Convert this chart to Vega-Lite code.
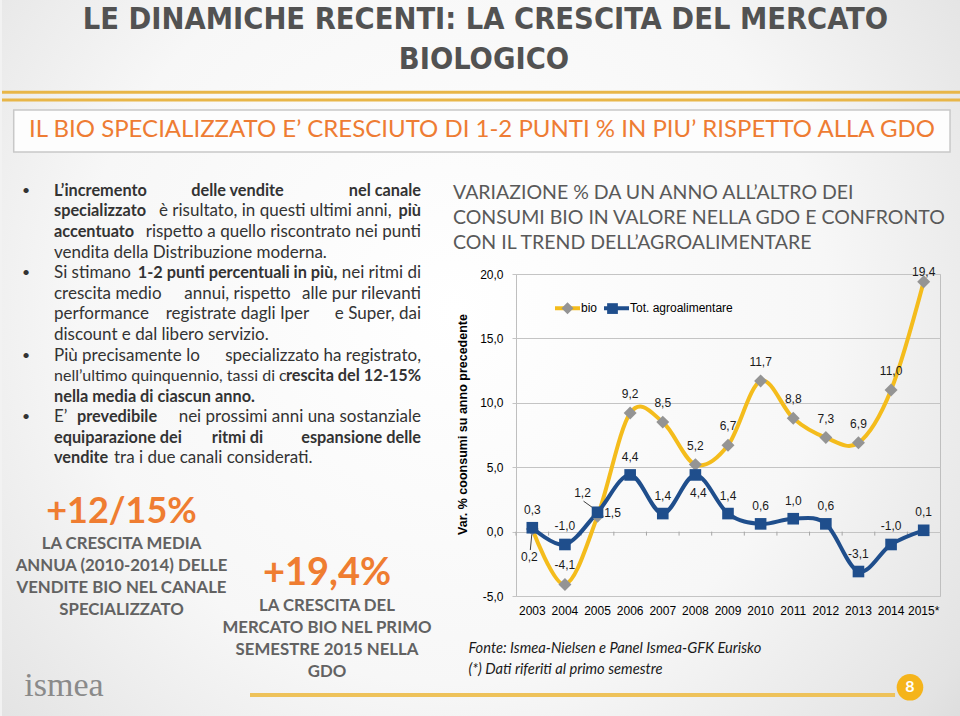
{
 "$schema": "https://vega.github.io/schema/vega-lite/v6.json",
 "background": "#f2f2f2",
 "padding": 0,
 "spacing": 0,
 "bounds": "flush",
 "columns": 2,
 "config": {
  "view": {"stroke": null},
  "locale": {"number": {"decimal": ",", "thousands": ".", "grouping": [3], "currency": ["", " €"], "minus": "-"}}
 },
 "datasets": {
  "series": [
   {"year": "2003", "series": "bio", "value": 0.2},
   {"year": "2004", "series": "bio", "value": -4.1},
   {"year": "2005", "series": "bio", "value": 1.2},
   {"year": "2006", "series": "bio", "value": 9.2},
   {"year": "2007", "series": "bio", "value": 8.5},
   {"year": "2008", "series": "bio", "value": 5.2},
   {"year": "2009", "series": "bio", "value": 6.7},
   {"year": "2010", "series": "bio", "value": 11.7},
   {"year": "2011", "series": "bio", "value": 8.8},
   {"year": "2012", "series": "bio", "value": 7.3},
   {"year": "2013", "series": "bio", "value": 6.9},
   {"year": "2014", "series": "bio", "value": 11.0},
   {"year": "2015*", "series": "bio", "value": 19.4},
   {"year": "2003", "series": "Tot. agroalimentare", "value": 0.3},
   {"year": "2004", "series": "Tot. agroalimentare", "value": -1.0},
   {"year": "2005", "series": "Tot. agroalimentare", "value": 1.5},
   {"year": "2006", "series": "Tot. agroalimentare", "value": 4.4},
   {"year": "2007", "series": "Tot. agroalimentare", "value": 1.4},
   {"year": "2008", "series": "Tot. agroalimentare", "value": 4.4},
   {"year": "2009", "series": "Tot. agroalimentare", "value": 1.4},
   {"year": "2010", "series": "Tot. agroalimentare", "value": 0.6},
   {"year": "2011", "series": "Tot. agroalimentare", "value": 1.0},
   {"year": "2012", "series": "Tot. agroalimentare", "value": 0.6},
   {"year": "2013", "series": "Tot. agroalimentare", "value": -3.1},
   {"year": "2014", "series": "Tot. agroalimentare", "value": -1.0},
   {"year": "2015*", "series": "Tot. agroalimentare", "value": 0.1}
  ],
  "boldL": [
   {"line": 1, "t": "L’incremento"},
   {"line": 2, "t": "specializzato"},
   {"line": 3, "t": "accentuato"},
   {"line": 11, "t": "nella media di ciascun anno."},
   {"line": 13, "t": "equiparazione dei"},
   {"line": 14, "t": "vendite"}
  ],
  "boldM": [
   {"line": 1, "t": "delle vendite"},
   {"line": 5, "t": "1-2 punti percentuali in più,"},
   {"line": 13, "t": "ritmi di"}
  ],
  "boldR": [
   {"line": 1, "t": "nel canale"},
   {"line": 2, "t": "più"},
   {"line": 10, "t": "rescita del 12-15%"},
   {"line": 13, "t": "espansione delle"}
  ],
  "normL": [
   {"line": 4, "t": "vendita della Distribuzione moderna."},
   {"line": 5, "t": "Si stimano"},
   {"line": 6, "t": "crescita medio"},
   {"line": 7, "t": "performance"},
   {"line": 8, "t": "discount e dal libero servizio."},
   {"line": 9, "t": "Più precisamente lo"},
   {"line": 12, "t": "E’"}
  ],
  "normM": [
   {"line": 6, "t": "annui, rispetto"},
   {"line": 7, "t": "registrate dagli Iper"}
  ],
  "normR": [
   {"line": 3, "t": "rispetto a quello riscontrato nei punti"},
   {"line": 5, "t": "nei ritmi di"},
   {"line": 6, "t": "alle pur rilevanti"},
   {"line": 7, "t": "e Super, dai"},
   {"line": 9, "t": "specializzato ha registrato,"},
   {"line": 12, "t": "nei prossimi anni una sostanziale"}
  ],
  "bullets": [{"line": 1}, {"line": 5}, {"line": 9}, {"line": 12}],
  "blockA": [
   {"line": 1, "t": "LA CRESCITA MEDIA"},
   {"line": 2, "t": "ANNUA (2010-2014) DELLE"},
   {"line": 3, "t": "VENDITE BIO NEL CANALE"},
   {"line": 4, "t": "SPECIALIZZATO"}
  ],
  "blockB": [
   {"line": 1, "t": "LA CRESCITA DEL"},
   {"line": 2, "t": "MERCATO BIO NEL PRIMO"},
   {"line": 3, "t": "SEMESTRE 2015 NELLA"},
   {"line": 4, "t": "GDO"}
  ]
 },
 "concat": [
  {
   "width": 514,
   "height": 160,
   "layer": [
    {"data": {"values": [{}]},
     "mark": {"type": "rect", "strokeWidth": 0,
      "fill": {"gradient": "radial", "x1": 0.47, "y1": 0.45, "r1": 0, "x2": 0.47, "y2": 0.45, "r2": 0.78,
       "stops": [{"offset": 0, "color": "#ffffff"}, {"offset": 0.5, "color": "#f7f7f7"}, {"offset": 0.82, "color": "#e3e3e3"}, {"offset": 1, "color": "#cfcfcf"}]}},
     "encoding": {"x": {"datum": 0, "type": "quantitative", "scale": {"domain": [0, 53.54], "nice": false, "zero": false}, "axis": null}, "x2": {"datum": 100},
      "y": {"datum": 0, "type": "quantitative", "scale": {"domain": [0, 100], "nice": false, "zero": false, "reverse": true}, "axis": null}, "y2": {"datum": 447.5}}},
    {"data": {"values": [{}]}, "mark": {"type": "rule", "stroke": "#E8B648", "strokeWidth": 3},
     "encoding": {"x": {"datum": 0, "type": "quantitative", "scale": {"domain": [0, 53.54], "nice": false, "zero": false}, "axis": null}, "x2": {"datum": 100},
      "y": {"datum": 57.7, "type": "quantitative", "scale": {"domain": [0, 100], "nice": false, "zero": false, "reverse": true}, "axis": null}}},
    {"data": {"values": [{}]}, "mark": {"type": "rule", "stroke": "#E8B648", "strokeWidth": 3},
     "encoding": {"x": {"datum": 0, "type": "quantitative", "scale": {"domain": [0, 53.54], "nice": false, "zero": false}, "axis": null}, "x2": {"datum": 100},
      "y": {"datum": 62.5, "type": "quantitative", "scale": {"domain": [0, 100], "nice": false, "zero": false, "reverse": true}, "axis": null}}},
    {"data": {"values": [{}]}, "mark": {"type": "rect", "fill": "#fdfdfd", "stroke": "#c8c8c8", "strokeWidth": 1.5},
     "encoding": {"x": {"datum": 1.22, "type": "quantitative", "scale": {"domain": [0, 53.54], "nice": false, "zero": false}, "axis": null}, "x2": {"datum": 98.75},
      "y": {"datum": 68.75, "type": "quantitative", "scale": {"domain": [0, 100], "nice": false, "zero": false, "reverse": true}, "axis": null}, "y2": {"datum": 95}}},
    {"data": {"values": [{"t": "LE DINAMICHE RECENTI: LA CRESCITA DEL MERCATO"}]},
     "mark": {"type": "text", "font": "DejaVu Sans Condensed, sans-serif", "fontWeight": "bold", "fontSize": 30.5, "fill": "#525252", "align": "center", "baseline": "middle"},
     "encoding": {"x": {"datum": 50.36, "type": "quantitative", "scale": {"domain": [0, 53.54], "nice": false, "zero": false}, "axis": null},
      "y": {"datum": 12.5, "type": "quantitative", "scale": {"domain": [0, 100], "nice": false, "zero": false, "reverse": true}, "axis": null}, "text": {"field": "t"}}},
    {"data": {"values": [{"t": "BIOLOGICO"}]},
     "mark": {"type": "text", "font": "DejaVu Sans Condensed, sans-serif", "fontWeight": "bold", "fontSize": 30.5, "fill": "#525252", "align": "center", "baseline": "middle"},
     "encoding": {"x": {"datum": 50.2, "type": "quantitative", "scale": {"domain": [0, 53.54], "nice": false, "zero": false}, "axis": null},
      "y": {"datum": 37.5, "type": "quantitative", "scale": {"domain": [0, 100], "nice": false, "zero": false, "reverse": true}, "axis": null}, "text": {"field": "t"}}},
    {"data": {"values": [{"t": "IL BIO SPECIALIZZATO E’ CRESCIUTO DI 1-2 PUNTI % IN PIU’ RISPETTO ALLA GDO"}]},
     "mark": {"type": "text", "font": "Lato", "fontSize": 24, "fill": "#EE7C33", "align": "center", "baseline": "middle"},
     "encoding": {"x": {"datum": 50, "type": "quantitative", "scale": {"domain": [0, 53.54], "nice": false, "zero": false}, "axis": null},
      "y": {"datum": 81.25, "type": "quantitative", "scale": {"domain": [0, 100], "nice": false, "zero": false, "reverse": true}, "axis": null}, "text": {"field": "t"}}}
   ]
  },
  {"width": 424, "height": 160, "data": {"values": []}, "mark": "point"},
  {
   "width": 514,
   "height": 114,
   "layer": [
    {"data": {"name": "bullets"}, "mark": {"type": "text", "font": "Lato", "fontSize": 14, "fill": "#333333", "align": "center", "baseline": "middle"},
     "encoding": {"x": {"datum": -7.63, "type": "quantitative", "scale": {"domain": [-14.169, 125.886], "nice": false, "zero": false}, "axis": null},
      "y": {"field": "line", "type": "quantitative", "scale": {"domain": [-0.5, 5.039], "nice": false, "zero": false, "reverse": true}, "axis": null}, "text": {"value": "•"}}},
    {"data": {"name": "boldL"}, "mark": {"type": "text", "font": "Lato", "fontSize": 16.3, "fontWeight": "bold", "fill": "#333333", "align": "left", "baseline": "middle"},
     "encoding": {"x": {"datum": 0, "type": "quantitative", "scale": {"domain": [-14.169, 125.886], "nice": false, "zero": false}, "axis": null},
      "y": {"field": "line", "type": "quantitative", "scale": {"domain": [-0.5, 5.039], "nice": false, "zero": false, "reverse": true}, "axis": null}, "text": {"field": "t"}}},
    {"data": {"name": "boldM"}, "mark": {"type": "text", "font": "Lato", "fontSize": 16.3, "fontWeight": "bold", "fill": "#333333", "align": "center", "baseline": "middle"},
     "encoding": {"x": {"datum": 50, "type": "quantitative", "scale": {"domain": [-14.169, 125.886], "nice": false, "zero": false}, "axis": null},
      "y": {"field": "line", "type": "quantitative", "scale": {"domain": [-0.5, 5.039], "nice": false, "zero": false, "reverse": true}, "axis": null}, "text": {"field": "t"}}},
    {"data": {"name": "boldR"}, "mark": {"type": "text", "font": "Lato", "fontSize": 16.3, "fontWeight": "bold", "fill": "#333333", "align": "right", "baseline": "middle"},
     "encoding": {"x": {"datum": 100, "type": "quantitative", "scale": {"domain": [-14.169, 125.886], "nice": false, "zero": false}, "axis": null},
      "y": {"field": "line", "type": "quantitative", "scale": {"domain": [-0.5, 5.039], "nice": false, "zero": false, "reverse": true}, "axis": null}, "text": {"field": "t"}}},
    {"data": {"name": "normL"}, "mark": {"type": "text", "font": "Lato", "fontSize": 17, "fill": "#333333", "align": "left", "baseline": "middle"},
     "encoding": {"x": {"datum": 0, "type": "quantitative", "scale": {"domain": [-14.169, 125.886], "nice": false, "zero": false}, "axis": null},
      "y": {"field": "line", "type": "quantitative", "scale": {"domain": [-0.5, 5.039], "nice": false, "zero": false, "reverse": true}, "axis": null}, "text": {"field": "t"}}},
    {"data": {"name": "normM"}, "mark": {"type": "text", "font": "Lato", "fontSize": 17, "fill": "#333333", "align": "center", "baseline": "middle"},
     "encoding": {"x": {"datum": 50, "type": "quantitative", "scale": {"domain": [-14.169, 125.886], "nice": false, "zero": false}, "axis": null},
      "y": {"field": "line", "type": "quantitative", "scale": {"domain": [-0.5, 5.039], "nice": false, "zero": false, "reverse": true}, "axis": null}, "text": {"field": "t"}}},
    {"data": {"name": "normR"}, "mark": {"type": "text", "font": "Lato", "fontSize": 17, "fill": "#333333", "align": "right", "baseline": "middle"},
     "encoding": {"x": {"datum": 100, "type": "quantitative", "scale": {"domain": [-14.169, 125.886], "nice": false, "zero": false}, "axis": null},
      "y": {"field": "line", "type": "quantitative", "scale": {"domain": [-0.5, 5.039], "nice": false, "zero": false, "reverse": true}, "axis": null}, "text": {"field": "t"}}},
    {"data": {"values": [{"line": 10, "t": "nell’ultimo quinquennio, tassi di c"}]}, "mark": {"type": "text", "font": "Lato", "fontSize": 16, "fill": "#333333", "align": "left", "baseline": "middle"},
     "encoding": {"x": {"datum": 0, "type": "quantitative", "scale": {"domain": [-14.169, 125.886], "nice": false, "zero": false}, "axis": null},
      "y": {"field": "line", "type": "quantitative", "scale": {"domain": [-0.5, 5.039], "nice": false, "zero": false, "reverse": true}, "axis": null}, "text": {"field": "t"}}},
    {"data": {"values": [{"line": 2, "t": "è risultato, in questi ultimi anni,"}]}, "mark": {"type": "text", "font": "Lato", "fontSize": 17, "fill": "#333333", "align": "left", "baseline": "middle"},
     "encoding": {"x": {"datum": 28.6, "type": "quantitative", "scale": {"domain": [-14.169, 125.886], "nice": false, "zero": false}, "axis": null},
      "y": {"field": "line", "type": "quantitative", "scale": {"domain": [-0.5, 5.039], "nice": false, "zero": false, "reverse": true}, "axis": null}, "text": {"field": "t"}}},
    {"data": {"values": [{"line": 12, "t": "prevedibile"}]}, "mark": {"type": "text", "font": "Lato", "fontSize": 16.3, "fontWeight": "bold", "fill": "#333333", "align": "left", "baseline": "middle"},
     "encoding": {"x": {"datum": 6.27, "type": "quantitative", "scale": {"domain": [-14.169, 125.886], "nice": false, "zero": false}, "axis": null},
      "y": {"field": "line", "type": "quantitative", "scale": {"domain": [-0.5, 5.039], "nice": false, "zero": false, "reverse": true}, "axis": null}, "text": {"field": "t"}}},
    {"data": {"values": [{"line": 14, "t": "tra i due canali considerati."}]}, "mark": {"type": "text", "font": "Lato", "fontSize": 17, "fill": "#333333", "align": "left", "baseline": "middle"},
     "encoding": {"x": {"datum": 16.35, "type": "quantitative", "scale": {"domain": [-14.169, 125.886], "nice": false, "zero": false}, "axis": null},
      "y": {"field": "line", "type": "quantitative", "scale": {"domain": [-0.5, 5.039], "nice": false, "zero": false, "reverse": true}, "axis": null}, "text": {"field": "t"}}}
   ]
  },
  {"width": 424, "height": 114, "data": {"values": []}, "mark": "point"},
  {
   "width": 514,
   "height": 322,
   "layer": [
    {"data": {"values": [{}]}, "mark": {"type": "rule", "stroke": "#EEC25A", "strokeWidth": 4},
     "encoding": {"x": {"datum": 48.25, "type": "quantitative", "scale": {"domain": [0, 100], "nice": false, "zero": false}, "axis": null}, "x2": {"datum": 100},
      "y": {"datum": 7.91, "type": "quantitative", "scale": {"domain": [-11.404, 3.367], "nice": false, "zero": false, "reverse": true}, "axis": null}}},
    {"data": {"values": [{"t": "ismea"}]}, "mark": {"type": "text", "font": "Liberation Serif", "fontSize": 34, "fill": "#8a8a8a", "align": "center", "baseline": "middle"},
     "encoding": {"x": {"datum": 12.06, "type": "quantitative", "scale": {"domain": [0, 100], "nice": false, "zero": false}, "axis": null},
      "y": {"datum": 7.5, "type": "quantitative", "scale": {"domain": [-11.404, 3.367], "nice": false, "zero": false, "reverse": true}, "axis": null}, "text": {"field": "t"}}},
    {"data": {"values": [{"t": "+12/15%"}]}, "mark": {"type": "text", "font": "Lato", "fontSize": 36, "fontWeight": "bold", "fill": "#EF7D31", "align": "center", "baseline": "middle", "dy": -11},
     "encoding": {"x": {"datum": 23.25, "type": "quantitative", "scale": {"domain": [0, 100], "nice": false, "zero": false}, "axis": null},
      "y": {"datum": 0, "type": "quantitative", "scale": {"domain": [-11.404, 3.367], "nice": false, "zero": false, "reverse": true}, "axis": null}, "text": {"field": "t"}}},
    {"data": {"name": "blockA"}, "mark": {"type": "text", "font": "Lato", "fontSize": 16.8, "fontWeight": "bold", "fill": "#626262", "align": "center", "baseline": "middle"},
     "encoding": {"x": {"datum": 23.25, "type": "quantitative", "scale": {"domain": [0, 100], "nice": false, "zero": false}, "axis": null},
      "y": {"field": "line", "type": "quantitative", "scale": {"domain": [-11.404, 3.367], "nice": false, "zero": false, "reverse": true}, "axis": null}, "text": {"field": "t"}}},
    {"data": {"values": [{"t": "+19,4%"}]}, "mark": {"type": "text", "font": "Lato", "fontSize": 38, "fontWeight": "bold", "fill": "#EF7D31", "align": "center", "baseline": "middle", "dy": 51},
     "encoding": {"x": {"datum": 63.23, "type": "quantitative", "scale": {"domain": [0, 100], "nice": false, "zero": false}, "axis": null},
      "y": {"datum": 0, "type": "quantitative", "scale": {"domain": [-11.404, 3.367], "nice": false, "zero": false, "reverse": true}, "axis": null}, "text": {"field": "t"}}},
    {"data": {"name": "blockB"}, "mark": {"type": "text", "font": "Lato", "fontSize": 16.8, "fontWeight": "bold", "fill": "#626262", "align": "center", "baseline": "middle", "dy": 62},
     "encoding": {"x": {"datum": 63.23, "type": "quantitative", "scale": {"domain": [0, 100], "nice": false, "zero": false}, "axis": null},
      "y": {"field": "line", "type": "quantitative", "scale": {"domain": [-11.404, 3.367], "nice": false, "zero": false, "reverse": true}, "axis": null}, "text": {"field": "t"}}}
   ]
  },
  {
   "width": 424,
   "height": 322,
   "view": {"stroke": "#bfbfbf", "strokeWidth": 1},
   "title": {
    "text": ["VARIAZIONE % DA UN ANNO ALL’ALTRO DEI", "CONSUMI BIO IN VALORE NELLA GDO E CONFRONTO", "CON IL TREND DELL’AGROALIMENTARE"],
    "anchor": "start", "frame": "group", "dx": -63, "offset": 12,
    "font": "Lato", "fontSize": 19.5, "fontWeight": "normal", "color": "#595959", "lineHeight": 25
   },
   "data": {"name": "series"},
   "encoding": {
    "x": {
     "field": "year", "type": "nominal", "bandPosition": 0.5,
     "scale": {"type": "band", "paddingInner": 0, "paddingOuter": 0, "domain": ["2003", "2004", "2005", "2006", "2007", "2008", "2009", "2010", "2011", "2012", "2013", "2014", "2015*"]},
     "axis": {
      "title": ["Fonte: Ismea-Nielsen e Panel Ismea-GFK Eurisko", "(*) Dati riferiti al primo semestre"],
      "labelAngle": 0, "labelFont": "Liberation Sans", "labelFontSize": 12, "labelColor": "#000000", "labelPadding": 9, "labelOverlap": false,
      "ticks": false, "domain": false, "grid": false,
      "titleFont": "Lato", "titleFontStyle": "italic", "titleFontWeight": "normal", "titleFontSize": 14.7, "titleColor": "#1a1a1a",
      "titleAnchor": "start", "titleAlign": "left", "titleX": -48, "titleY": 44, "titleBaseline": "top", "titleLineHeight": 21
     }
    },
    "y": {
     "field": "value", "type": "quantitative",
     "scale": {"domain": [-5, 20], "nice": false, "zero": false},
     "axis": {
      "values": [-5, 0, 5, 10, 15, 20], "format": ".1f", "grid": true, "gridColor": "#c4c4c4", "domain": false,
      "ticks": true, "tickSize": 4, "tickColor": "#c4c4c4",
      "labelFont": "Liberation Sans", "labelFontSize": 12, "labelColor": "#000000", "labelPadding": 9,
      "title": "Var. % coonsumi su anno precedente", "titleFont": "Liberation Sans", "titleFontSize": 12.5, "titleFontWeight": "bold", "titleColor": "#000000",
      "titlePadding": 10, "titleY": 150
     }
    }
   },
   "layer": [
    {"transform": [{"filter": "datum.series == 'bio'"}],
     "mark": {"type": "rule", "stroke": "#a6a6a6", "strokeWidth": 1, "y2Offset": 4},
     "encoding": {"x": {"field": "year", "type": "nominal", "bandPosition": 0}, "y": {"datum": 0}, "y2": {"datum": 0}}},
    {"transform": [{"filter": "datum.series == 'bio' && datum.year == '2003'"}],
     "mark": {"type": "rule", "stroke": "#404040", "strokeWidth": 1, "x2Offset": -2, "y2Offset": 21},
     "encoding": {"x2": {"field": "year", "bandPosition": 0.5}, "y2": {"field": "value"}}},
    {"transform": [{"filter": "datum.series == 'bio' && datum.year == '2005'"}],
     "mark": {"type": "rule", "stroke": "#404040", "strokeWidth": 1, "xOffset": -14, "yOffset": -15, "x2Offset": 0, "y2Offset": -5},
     "encoding": {"x2": {"field": "year", "bandPosition": 0.5}, "y2": {"field": "value"}}},
    {"mark": {"type": "line", "interpolate": "cardinal", "tension": 0, "strokeWidth": 4},
     "encoding": {"color": {"field": "series", "type": "nominal",
      "scale": {"domain": ["bio", "Tot. agroalimentare"], "range": ["#F4BC1C", "#1F4E8C"]},
      "legend": {"orient": "none", "legendX": 551, "legendY": 293.5, "direction": "horizontal", "title": null, "values": ["bio", "Tot. agroalimentare"],
       "symbolType": "stroke", "symbolSize": 625, "symbolStrokeWidth": 4,
       "labelFont": "Liberation Sans", "labelFontSize": 12, "labelColor": "#000000", "labelOffset": -1, "columnPadding": -2, "padding": 0, "zindex": 0}}}},
    {"mark": {"type": "point", "filled": true, "size": 730, "opacity": 1, "strokeWidth": 0},
     "encoding": {
      "fill": {"field": "series", "type": "nominal",
       "scale": {"domain": ["Tot. agroalimentare", "bio"], "range": ["#1F4E8C", "#949494"]},
       "legend": {"orient": "none", "legendX": 551, "legendY": 293.5, "direction": "horizontal", "title": null, "values": ["bio", "Tot. agroalimentare"],
        "symbolSize": 625, "symbolStrokeWidth": 4, "symbolStrokeColor": "transparent",
        "labelExpr": "''", "labelFont": "Liberation Sans", "labelFontSize": 12, "labelOffset": 0, "columnPadding": 16, "padding": 0, "zindex": 1}},
      "shape": {"field": "series", "type": "nominal",
       "scale": {"domain": ["Tot. agroalimentare", "bio"], "range": ["M-0.43,-0.43H0.43V0.43H-0.43Z", "M0,-0.48L0.48,0L0,0.48L-0.48,0Z"]},
       "legend": {"orient": "none", "legendX": 551, "legendY": 293.5, "direction": "horizontal", "title": null, "values": ["bio", "Tot. agroalimentare"],
        "symbolSize": 625, "symbolStrokeWidth": 4, "symbolStrokeColor": "transparent",
        "labelExpr": "''", "labelFont": "Liberation Sans", "labelFontSize": 12, "labelOffset": 0, "columnPadding": 16, "padding": 0, "zindex": 1}}
     }},
    {"transform": [{"filter": "datum.series == 'bio' && indexof(['2003','2005','2015*'], datum.year) < 0"}],
     "mark": {"type": "text", "font": "Liberation Sans", "fontSize": 12, "fill": "#1a1a1a", "baseline": "middle", "dy": -19},
     "encoding": {"text": {"field": "value", "type": "quantitative", "format": ".1f"}}},
    {"transform": [{"filter": "datum.series == 'bio' && datum.year == '2015*'"}],
     "mark": {"type": "text", "font": "Liberation Sans", "fontSize": 12, "fill": "#1a1a1a", "baseline": "middle", "dy": -10},
     "encoding": {"text": {"field": "value", "type": "quantitative", "format": ".1f"}}},
    {"transform": [{"filter": "datum.series == 'bio' && datum.year == '2003'"}],
     "mark": {"type": "text", "font": "Liberation Sans", "fontSize": 12, "fill": "#1a1a1a", "baseline": "middle", "dx": -3, "dy": 28},
     "encoding": {"text": {"field": "value", "type": "quantitative", "format": ".1f"}}},
    {"transform": [{"filter": "datum.series == 'bio' && datum.year == '2005'"}],
     "mark": {"type": "text", "font": "Liberation Sans", "fontSize": 12, "fill": "#1a1a1a", "baseline": "middle", "dx": -15, "dy": -23},
     "encoding": {"text": {"field": "value", "type": "quantitative", "format": ".1f"}}},
    {"transform": [{"filter": "datum.series == 'Tot. agroalimentare' && indexof(['2005','2008'], datum.year) < 0"}],
     "mark": {"type": "text", "font": "Liberation Sans", "fontSize": 12, "fill": "#1a1a1a", "baseline": "middle", "dy": -18},
     "encoding": {"text": {"field": "value", "type": "quantitative", "format": ".1f"}}},
    {"transform": [{"filter": "datum.series == 'Tot. agroalimentare' && datum.year == '2005'"}],
     "mark": {"type": "text", "font": "Liberation Sans", "fontSize": 12, "fill": "#1a1a1a", "baseline": "middle", "dx": 15, "dy": 1},
     "encoding": {"text": {"field": "value", "type": "quantitative", "format": ".1f"}}},
    {"transform": [{"filter": "datum.series == 'Tot. agroalimentare' && datum.year == '2008'"}],
     "mark": {"type": "text", "font": "Liberation Sans", "fontSize": 12, "fill": "#1a1a1a", "baseline": "middle", "dx": 3, "dy": 18},
     "encoding": {"text": {"field": "value", "type": "quantitative", "format": ".1f"}}}
   ]
  },
  {"width": 514, "height": 120, "data": {"values": []}, "mark": "point"},
  {
   "width": 424,
   "height": 120,
   "layer": [
    {"data": {"values": [{}]}, "mark": {"type": "rule", "stroke": "#EEC25A", "strokeWidth": 4},
     "encoding": {"x": {"datum": 0, "type": "quantitative", "scale": {"domain": [0, 100], "nice": false, "zero": false}, "axis": null}, "x2": {"datum": 89.4},
      "y": {"datum": 82.5, "type": "quantitative", "scale": {"domain": [0, 100], "nice": false, "zero": false, "reverse": true}, "axis": null}}},
    {"data": {"values": [{}]}, "mark": {"type": "point", "shape": "circle", "filled": true, "size": 707, "fill": "#F5B41B", "opacity": 1, "strokeWidth": 0},
     "encoding": {"x": {"datum": 92.92, "type": "quantitative", "scale": {"domain": [0, 100], "nice": false, "zero": false}, "axis": null},
      "y": {"datum": 76.08, "type": "quantitative", "scale": {"domain": [0, 100], "nice": false, "zero": false, "reverse": true}, "axis": null}}},
    {"data": {"values": [{"t": "8"}]}, "mark": {"type": "text", "font": "Lato", "fontSize": 16, "fontWeight": "bold", "fill": "#ffffff", "align": "center", "baseline": "middle"},
     "encoding": {"x": {"datum": 92.92, "type": "quantitative", "scale": {"domain": [0, 100], "nice": false, "zero": false}, "axis": null},
      "y": {"datum": 76.08, "type": "quantitative", "scale": {"domain": [0, 100], "nice": false, "zero": false, "reverse": true}, "axis": null}, "text": {"field": "t"}}}
   ]
  }
 ]
}
